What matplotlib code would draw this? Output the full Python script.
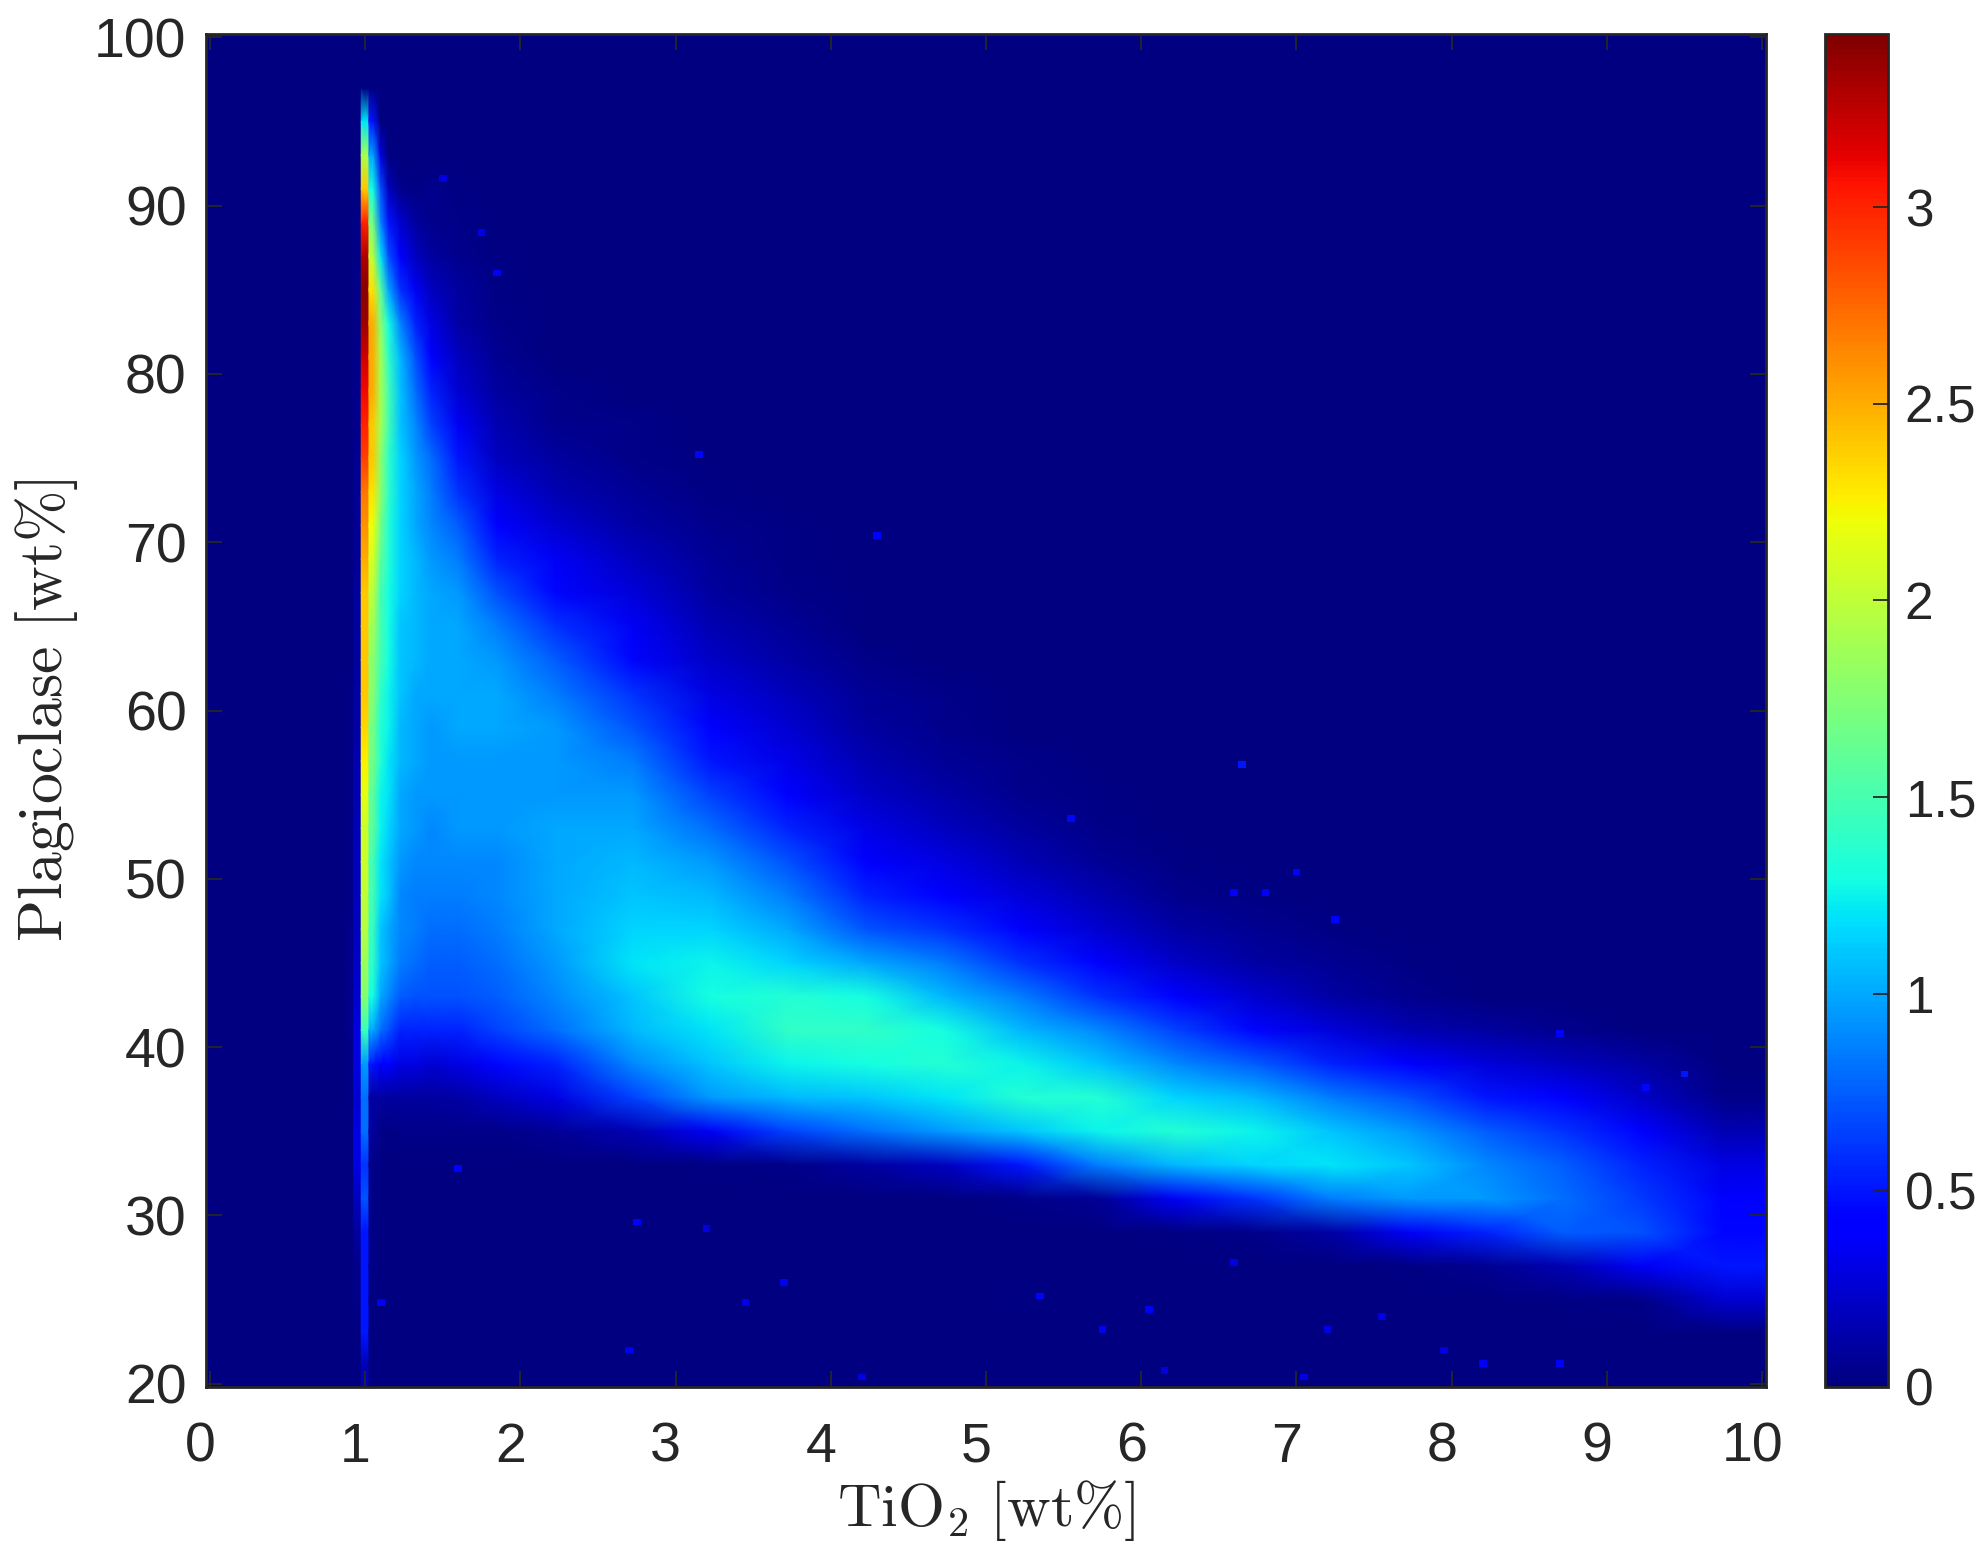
import numpy as np
import matplotlib
matplotlib.use('Agg')
import matplotlib.pyplot as plt
from matplotlib.transforms import ScaledTranslation

# plagioclase rows are 2 wt% high, values read top to bottom, rest of a column is 0
row_centres = np.arange(21, 100, 2)
col_edges = [0.875, 0.925, 0.975, 1.025, 1.075, 1.125, 1.175, 1.275, 1.375, 1.475, 1.725, 1.975,
             2.475, 2.975, 3.475, 3.975, 4.475, 4.975, 5.475, 5.975, 6.475, 6.975, 7.475, 7.975,
             8.475, 8.975, 9.475, 10.025]

# top of the first value in each column
col_tops = [66, 90, 96, 96, 94, 92, 92, 92, 92, 92, 88, 82, 80, 74, 72, 72, 62, 58, 56, 52, 50, 48,
            46, 42, 42, 40, 38]

col_values = [
    [.01, .01, .02, .02, .02, .02, .02, .02, .02, .03, .03, .03, .03, .02, .02, .01, .01],
    [.03, .03, .03, .03, .04, .05, .05, .06, .08, .08, .08, .1, .1, .1, .12, .12, .15, .15, .18, .2,
     .2, .2, .22, .25, .3, .3, .25, .3, .3, .2, .1, .03, .03],
    [1.2, 1.9, 2.4, 3.0, 3.3, 3.4, 3.35, 3.2, 3.1, 3.0, 2.9, 2.7, 2.6, 2.5, 2.4, 2.4, 2.4, 2.4, 2.35,
     2.25, 2.15, 2.05, 2.05, 2.0, 1.95, 1.85, 1.75, 1.45, .95, .8, .8, .6, .7, .5, .5, .5, .5, .15],
    [.5, 1.0, 1.3, 1.7, 2.0, 2.3, 2.5, 2.5, 2.5, 2.4, 2.4, 2.3, 2.2, 2.1, 2.0, 1.9, 1.8, 1.8, 1.7,
     1.7, 1.6, 1.6, 1.5, 1.5, 1.45, 1.4, 1.3, 1.0, .5, .1, .1, .03, .03, .03, .03],
    [.3, .7, .9, 1.2, 1.6, 1.8, 1.9, 1.9, 1.9, 1.8, 1.8, 1.7, 1.6, 1.5, 1.5, 1.5, 1.4, 1.35, 1.35,
     1.25, 1.25, 1.2, 1.2, 1.1, 1.1, 1.0, .8, .4, .1, .04, .02],
    [.2, .5, .7, 1.0, 1.3, 1.4, 1.5, 1.5, 1.4, 1.4, 1.35, 1.35, 1.3, 1.3, 1.3, 1.25, 1.25, 1.2, 1.2,
     1.15, 1.1, 1.1, 1.0, 1.0, .9, .7, .4, .1, .02],
    [.05, .25, .4, .6, .9, 1.05, 1.1, 1.1, 1.15, 1.15, 1.15, 1.15, 1.15, 1.1, 1.1, 1.1, 1.05, 1.05,
     1.0, 1.0, .95, .9, .9, .85, .75, .55, .3, .1, .03],
    [.02, .1, .2, .35, .55, .7, .8, .9, .95, 1.0, 1.0, 1.05, 1.05, 1.05, 1.05, 1.0, 1.0, 1.0, .95,
     .95, .9, .85, .85, .8, .7, .55, .3, .1, .03],
    [.05, .05, .1, .2, .3, .4, .55, .65, .8, .85, .9, .95, 1.0, 1.0, 1.0, 1.0, .95, .95, .95, .9, .9,
     .85, .8, .75, .7, .55, .25, .1, .03],
    [.02, .03, .05, .1, .12, .2, .25, .35, .5, .6, .75, .85, .95, 1.0, 1.0, 1.0, 1.0, .95, .95, .95,
     .9, .85, .8, .75, .7, .55, .3, .12, .03, .01],
    [.02, .02, .04, .06, .1, .15, .2, .3, .4, .55, .7, .85, .95, 1.0, 1.0, .95, .95, .95, .9, .9, .85,
     .8, .75, .65, .45, .2, .04, .01],
    [.01, .03, .05, .1, .15, .25, .35, .45, .6, .75, .85, .95, .95, .95, 1.0, 1.0, 1.0, 1.0, .95, .9,
     .8, .55, .3, .08, .01, .01],
    [.01, .03, .04, .08, .12, .2, .28, .35, .45, .6, .72, .85, .95, 1.0, 1.05, 1.1, 1.15, 1.2, 1.1,
     1.05, .9, .65, .15, .01, .01],
    [.02, .05, .08, .1, .15, .22, .3, .4, .5, .65, .8, .95, 1.05, 1.15, 1.25, 1.3, 1.2, 1.1, .95, .35,
     .02, .01],
    [.02, .02, .04, .07, .12, .18, .25, .32, .42, .55, .7, .85, 1.0, 1.15, 1.35, 1.4, 1.25, 1.05, .65,
     .04, .01],
    [.01, 0, 0, .01, .03, .07, .1, .15, .22, .32, .42, .55, .72, 1.0, 1.3, 1.4, 1.3, 1.1, .8, .1, .01],
    [.03, .05, .08, .13, .2, .3, .42, .6, .85, 1.05, 1.3, 1.35, 1.2, .95, .2, .01],
    [.03, .05, .1, .17, .27, .4, .6, .85, 1.05, 1.25, 1.35, 1.1, .5, .03, 0, 0, .02],
    [.02, .04, .08, .15, .25, .4, .6, .9, 1.1, 1.35, 1.25, .85, .08, .01],
    [.02, .05, .12, .22, .4, .65, .9, 1.15, 1.35, 1.05, .35, .02],
    [.02, .06, .12, .25, .45, .75, 1.05, 1.25, 1.15, .6, .04],
    [.02, .06, .12, .28, .55, .85, 1.1, 1.2, .85, .12, .01],
    [.02, .05, .15, .4, .7, .95, 1.1, .95, .35, .02],
    [.1, .28, .5, .75, .9, .95, .55, .06, .01],
    [.05, .2, .4, .6, .75, .8, .75, .15, .02],
    [.12, .22, .4, .55, .62, .7, .35, .04],
    [.03, .15, .3, .38, .45, .5, .25, .01],
]

# single isolated cells away from the cloud
outlier_x = [1.85, 1.75, 1.5, 3.15, 4.3, 6.65, 5.55, 7.25, 6.8, 6.6, 7.0, 9.25, 9.5, 8.7, 5.35, 5.75,
             6.05, 6.15, 4.2, 2.7, 2.75, 3.2, 3.7, 3.45, 8.2, 7.95, 8.7, 7.05, 7.2, 7.55, 6.6, 1.6, 1.1]
outlier_y = [86, 88.4, 91.6, 75.2, 70.4, 56.8, 53.6, 47.6, 49.2, 49.2, 50.4, 37.6, 38.4, 40.8, 25.2,
             23.2, 24.4, 20.8, 20.4, 22, 29.6, 29.2, 26, 24.8, 21.2, 22, 21.2, 20.4, 23.2, 24, 27.2,
             32.8, 24.8]
outlier_v = [.35, .3, .3, .45, .4, .5, .45, .4, .35, .35, .4, .45, .5, .4, .45, .35, .35, .3, .3, .35,
             .4, .3, .35, .3, .35, .3, .35, .3, .3, .3, .3, .4, .35]

cbar_ticks = [0, 0.5, 1, 1.5, 2, 2.5, 3]
x_ticks = range(0, 11)
y_ticks = range(20, 101, 10)

density = np.zeros((len(row_centres), len(col_edges) - 1))
for j, (top, vals) in enumerate(zip(col_tops, col_values)):
    i_top = int((top - 20) / 2) - 1
    for k, v in enumerate(vals):
        if i_top - k >= 0:
            density[i_top - k, j] = v

W, H = 1986, 1553
left, right, top, bottom = 206, 1766, 34, 1387
ink = '#262626'
plt.rcParams['font.family'] = ['Liberation Sans', 'DejaVu Sans']
plt.rcParams['mathtext.fontset'] = 'cm'

fig = plt.figure(figsize=(W / 100, H / 100), dpi=100)
ax = fig.add_axes([left / W, 1 - bottom / H, (right - left) / W, (bottom - top) / H])
cax = fig.add_axes([1825 / W, 1 - bottom / H, 63 / W, (bottom - top) / H])

vmax = 3.44
kw = dict(cmap='jet', vmin=0, vmax=vmax, shading='gouraud')
ax.set_facecolor(plt.get_cmap('jet')(0.0))

# the spike at x=1 and left of it: keep sharp in x, only shaded along y
y_nodes = np.r_[19.8, row_centres, 100.2]
pad_rows = np.vstack([density[0], density, density[-1]])
n_narrow = 3
for j in range(n_narrow):
    ax.pcolormesh(col_edges[j:j + 2], y_nodes, np.c_[pad_rows[:, j], pad_rows[:, j]], **kw)

# everything right of the spike, shaded between column centres
edges = np.array(col_edges[n_narrow:])
x_nodes = np.r_[edges[0], 0.5 * (edges[:-1] + edges[1:]), edges[-1]]
cloud = pad_rows[:, n_narrow:]
m = ax.pcolormesh(x_nodes, y_nodes, np.c_[cloud[:, 0], cloud, cloud[:, -1]], **kw)

# outliers on the original bin grid (0.05 x 0.4)
fine_x = np.arange(-0.025, 10.03, 0.05)
fine_y = np.arange(19.8, 100.3, 0.4)
fine = np.full((len(fine_y) - 1, len(fine_x) - 1), np.nan)
for xx, yy, vv in zip(outlier_x, outlier_y, outlier_v):
    fine[int((yy - 19.8) / 0.4), int((xx + 0.025) / 0.05)] = vv
ax.pcolormesh(fine_x, fine_y, np.ma.masked_invalid(fine), cmap='jet', vmin=0, vmax=vmax)

ax.set_xlim(-0.025, 10.025)
ax.set_ylim(19.8, 100.2)
ax.set_xticks(list(x_ticks))
ax.set_yticks(list(y_ticks))
ax.tick_params(direction='in', top=True, right=True, length=11.5, width=1.3, color=ink,
               labelcolor=ink, labelsize=40, pad=14)
ax.tick_params(axis='x', pad=25)
for s in ax.spines.values():
    s.set_linewidth(2)
    s.set_color(ink)

offset = ScaledTranslation(-10 / 100, 0, fig.dpi_scale_trans)
for t in ax.get_xticklabels():
    t.set_transform(t.get_transform() + offset)

ax.set_xlabel(r'$\mathrm{TiO_2\ [wt\%]}$', fontsize=43.5, color=ink, labelpad=3)
ax.set_ylabel(r'$\mathrm{Plagioclase\ [wt\%]}$', fontsize=44.5, color=ink, labelpad=10)

cb = fig.colorbar(m, cax=cax)
cb.set_ticks(cbar_ticks)
cb.set_ticklabels(['0', '0.5', '1', '1.5', '2', '2.5', '3'])
cb.ax.tick_params(direction='in', length=11, width=1.3, color=ink, labelcolor=ink, labelsize=37, pad=12)
cb.outline.set_linewidth(2)
cb.outline.set_edgecolor(ink)

fig.savefig('out.png', dpi=100)
